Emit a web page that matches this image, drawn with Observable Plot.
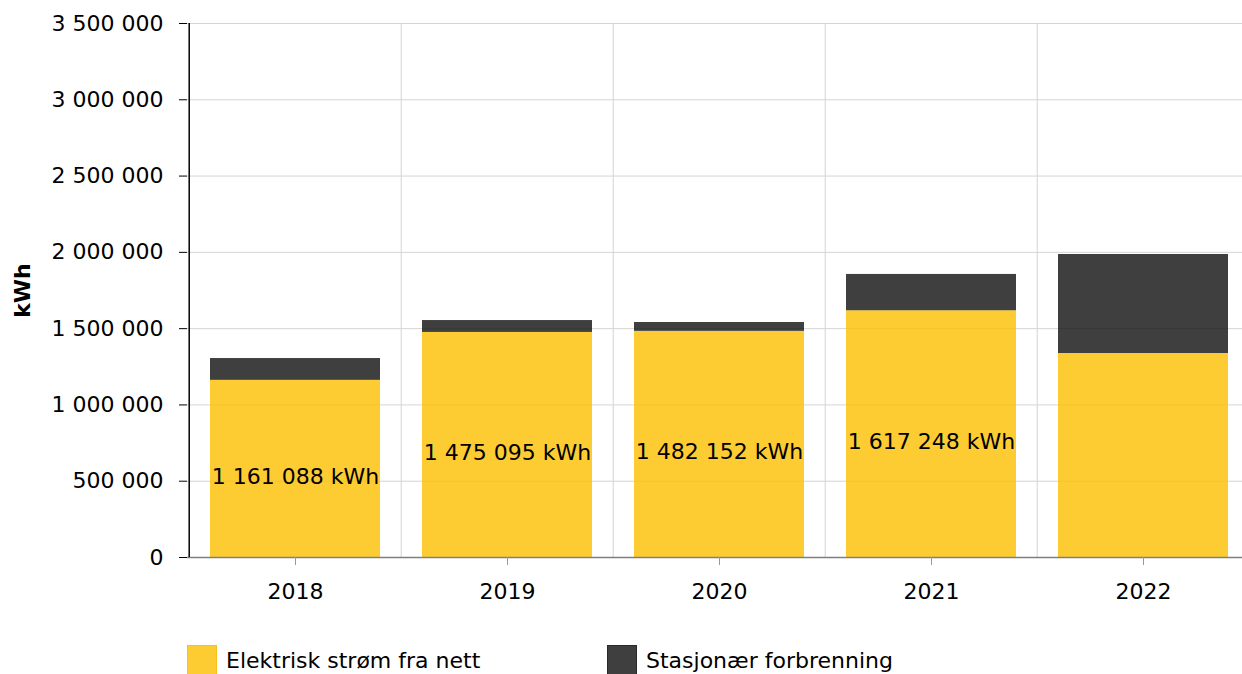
<!DOCTYPE html>
<html><head><meta charset="utf-8">
<script src="https://cdn.jsdelivr.net/npm/d3@7"></script>
<script src="https://cdn.jsdelivr.net/npm/@observablehq/plot@0.6"></script>
<style>
body{margin:0;overflow:hidden;background:#fff;font-family:"DejaVu Sans",sans-serif;}
#chart svg{max-width:none !important;}
#legend{display:flex;margin-left:187px;margin-top:25px;font-size:22px;color:#000;white-space:nowrap;}
.item{display:flex;align-items:center;width:420px;}
.sw{width:30px;height:30px;margin-right:9px;box-sizing:border-box;flex:none;}
</style></head><body><div id="chart"></div><div id="legend"></div><script>
const years = ["2018", "2019", "2020", "2021", "2022"];
const electric = [1161088, 1475095, 1482152, 1617248, 1337000];
const combustion = [143000, 78000, 58000, 238000, 649000];
const electricLabels = ["1 161 088 kWh", "1 475 095 kWh", "1 482 152 kWh", "1 617 248 kWh", null];
const seriesNames = ["Elektrisk strøm fra nett", "Stasjonær forbrenning"];
const seriesColors = ["#fcbf00", "#0f0f0f"];
const yTicks = [0, 500000, 1000000, 1500000, 2000000, 2500000, 3000000, 3500000];

const table = [
  ...years.map((y, i) => ({year: y, series: seriesNames[0], value: electric[i], label: electricLabels[i]})),
  ...years.map((y, i) => ({year: y, series: seriesNames[1], value: combustion[i], label: null}))
];
const fmt = d => d3.format(",")(d).replace(/,/g, " ");

const W = 1251, ML = 187, MR = 1;
const step = (W - ML - MR) / years.length;

const chart = Plot.plot({
  width: W, height: 620,
  marginLeft: ML, marginRight: MR, marginTop: 23, marginBottom: 63,
  style: {fontFamily: "DejaVu Sans, sans-serif", fontSize: "22px", color: "#000", background: "#fff", maxWidth: "none"},
  x: {domain: years, paddingInner: 0.2, paddingOuter: 0.1, label: null},
  y: {domain: [0, 3500000], label: null},
  color: {domain: seriesNames, range: seriesColors},
  marks: [
    Plot.gridY(yTicks, {stroke: "#d4d4d4", strokeOpacity: 1}),
    Plot.ruleX(years.slice(1), {x: d => d, dx: -step / 2, stroke: "#d4d4d4"}),
    Plot.barY(table, {x: "year", y: "value", fill: "series", fillOpacity: 0.8}),
    Plot.ruleY([0], {stroke: "#7f7f7f", strokeWidth: 1.5}),
    Plot.ruleX([years[0]], {x: d => d, dx: -step / 2, stroke: "#000", strokeWidth: 1.5}),
    Plot.axisY({ticks: yTicks, tickFormat: fmt, tickSize: 8, tickPadding: 16, label: null, fontSize: 22}),
    Plot.axisX({tickSize: 8, tickPadding: 18, stroke: "#999", label: null, fontSize: 22}),
    Plot.text(table.filter(d => d.label), {x: "year", y: d => d.value / 2, text: "label", dy: 8, fontSize: 22, fill: "#000"}),
    Plot.text(["kWh"], {frameAnchor: "left", dx: -165, rotate: -90, textAnchor: "middle", text: d => d, fontWeight: "bold", fontSize: 22, fill: "#000"})
  ]
});
chart.style.maxWidth = "none";
document.getElementById("chart").append(chart);

const legend = document.getElementById("legend");
seriesNames.forEach((name, i) => {
  const item = document.createElement("div");
  item.className = "item";
  const sw = document.createElement("div");
  sw.className = "sw";
  sw.style.background = i === 0 ? "#fdcc33" : "#3f3f3f";
  sw.style.border = i === 0 ? "1px solid #f5c21a" : "1px solid #2a2a2a";
  const t = document.createElement("span");
  t.textContent = name;
  item.append(sw, t);
  legend.append(item);
});
</script></body></html>
